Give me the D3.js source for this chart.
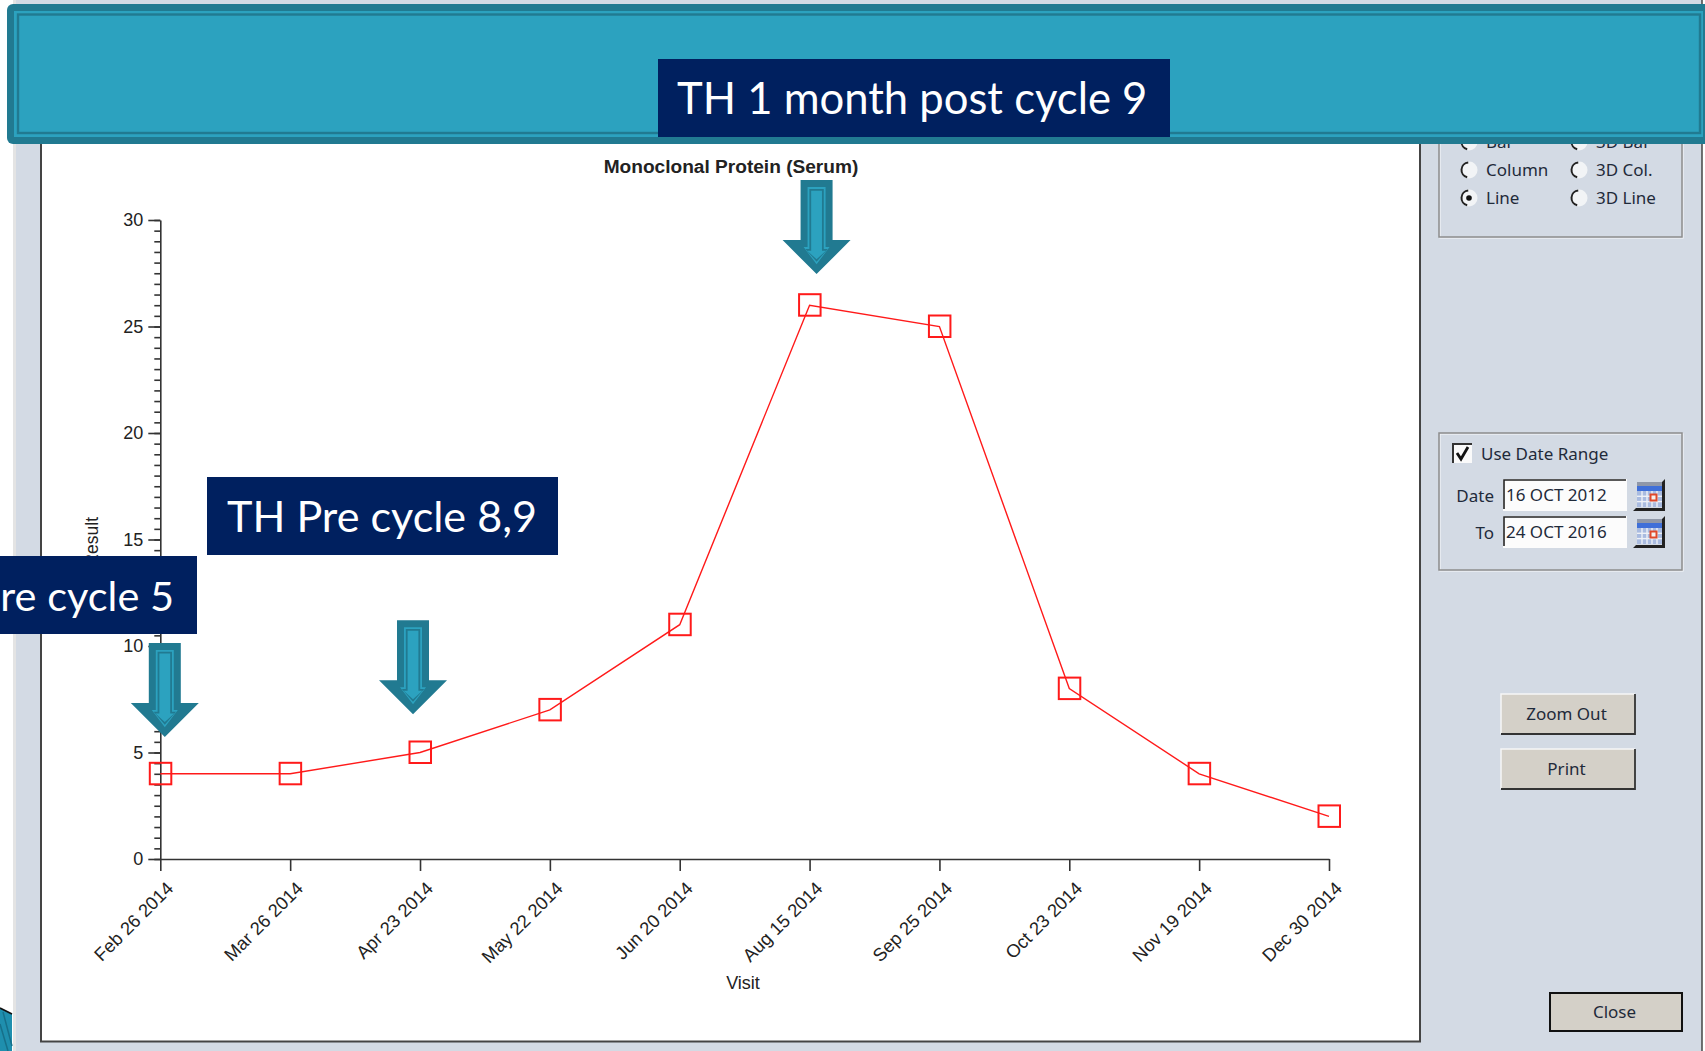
<!DOCTYPE html>
<html>
<head>
<meta charset="utf-8">
<script src="https://cdn.jsdelivr.net/npm/d3@7"></script>
<style>
  html, body { margin: 0; padding: 0; background: #fff; overflow: hidden; }
  .axis path, .axis line { stroke: #333; stroke-width: 1.6; }
  .axis text { font-family: "Liberation Sans", Arial, sans-serif; font-size: 18px; fill: #222; }
  .ui { font-family: "Noto Sans", sans-serif; font-size: 17px; fill: #1f2a3a; }
  .callout { font-family: Lato, sans-serif; font-size: 43.3px; fill: #fff; }
</style>
</head>
<body>
<div id="chart"></div>
<script>
// Chart values
var visits = ["Feb 26 2014", "Mar 26 2014", "Apr 23 2014", "May 22 2014", "Jun 20 2014",
              "Aug 15 2014", "Sep 25 2014", "Oct 23 2014", "Nov 19 2014", "Dec 30 2014"];
var mProtein = [4, 4, 5, 7, 11, 26, 25, 8, 4, 2];
var yTicks = [0, 5, 10, 15, 20, 25, 30];
var yMinorTicks = d3.range(0, 30.5, 0.5);

// Callouts on top of the chart: which visit each arrow points at
var arrowVisits = ["Feb 26 2014", "Apr 23 2014", "Aug 15 2014"];
var arrowValues = [5.73, 6.8, 27.46];
var arrowShift = [4.5, -7, 7];

var W = 1705, H = 1051;

var svg = d3.select("#chart").append("svg")
    .attr("width", W)
    .attr("height", H)
    .style("display", "block");

// Window background
svg.append("rect").attr("width", W).attr("height", H).attr("fill", "#fff");
svg.append("rect").attr("x", 13).attr("y", 0).attr("width", 3).attr("height", H).attr("fill", "#e4e4e4");
svg.append("rect").attr("x", 16).attr("y", 0).attr("width", 1686).attr("height", H).attr("fill", "#d3dae4");
svg.append("line").attr("x1", 1702).attr("x2", 1702).attr("y1", 0).attr("y2", H).attr("stroke", "#444").attr("stroke-width", 1.5);

// Corner of the slide decoration, bottom left
svg.append("path").attr("d", "M0,1008L12,1014V1051H0Z").attr("fill", "#1f8fae");
svg.append("path").attr("d", "M0,1024L8,1051M3,1012L12,1046").attr("fill", "none").attr("stroke", "#17708a").attr("stroke-width", 1.5);
svg.append("path").attr("d", "M0,1008L12,1014").attr("fill", "none").attr("stroke", "#111").attr("stroke-width", 1.8);

// Plot pane
svg.append("rect")
    .attr("x", 41).attr("y", 100).attr("width", 1379).attr("height", 941.5)
    .attr("fill", "#fff").attr("stroke", "#444").attr("stroke-width", 2);

// Scales and axes
var x = d3.scalePoint().domain(visits).range([160.3, 1329]);
var y = d3.scaleLinear().domain([0, 30]).range([859, 220]);

svg.append("g")
    .attr("class", "axis")
    .attr("transform", "translate(160.3,0)")
    .call(d3.axisLeft(y).tickValues(yMinorTicks).tickSize(6).tickFormat(""))
    .select(".domain").remove();

svg.append("g")
    .attr("class", "axis")
    .attr("transform", "translate(160.3,0)")
    .call(d3.axisLeft(y).tickValues(yTicks).tickSize(12).tickSizeOuter(0).tickPadding(5));

var xAxis = svg.append("g")
    .attr("class", "axis")
    .attr("transform", "translate(0,859)")
    .call(d3.axisBottom(x).tickSize(12).tickSizeOuter(0));

xAxis.selectAll("text")
    .attr("text-anchor", "end")
    .attr("dy", 0)
    .style("font-size", "18.3px")
    .attr("transform", "translate(3,20) rotate(-45)");

// Titles
svg.append("text")
    .attr("x", 731).attr("y", 173)
    .attr("text-anchor", "middle")
    .style("font", "bold 19.1px 'Liberation Sans', Arial, sans-serif")
    .style("fill", "#222")
    .text("Monoclonal Protein (Serum)");

svg.append("text")
    .attr("x", 743).attr("y", 989)
    .attr("text-anchor", "middle")
    .style("font", "18px 'Liberation Sans', Arial, sans-serif")
    .style("fill", "#222")
    .text("Visit");

svg.append("text")
    .attr("transform", "translate(98,517) rotate(-90)")
    .attr("text-anchor", "end")
    .style("font", "17.5px 'Liberation Sans', Arial, sans-serif")
    .style("fill", "#222")
    .text("Result");

// Series line and square markers
var line = d3.line()
    .x(function(d, i) { return x(visits[i]); })
    .y(function(d) { return y(d); });

svg.append("path")
    .datum(mProtein)
    .attr("d", line)
    .attr("fill", "none")
    .attr("stroke", "#ff1a1a")
    .attr("stroke-width", 1.4);

svg.selectAll(".marker")
    .data(mProtein)
    .enter().append("rect")
    .attr("class", "marker")
    .attr("x", function(d, i) { return x(visits[i]) - 10.5; })
    .attr("y", function(d) { return y(d) - 11; })
    .attr("width", 21.5)
    .attr("height", 21.5)
    .attr("fill", "none")
    .attr("stroke", "#ff1a1a")
    .attr("stroke-width", 2);

// Right hand controls
function groupBox(bx, by, bw, bh) {
    svg.append("rect").attr("x", bx + 1).attr("y", by + 1).attr("width", bw).attr("height", bh).attr("fill", "none").attr("stroke", "#f4f6f9").attr("stroke-width", 1.2);
    svg.append("rect").attr("x", bx).attr("y", by).attr("width", bw).attr("height", bh).attr("fill", "none").attr("stroke", "#8c8c8c").attr("stroke-width", 1.5);
}

function label(txt, lx, ly, anchor) {
    svg.append("text").attr("class", "ui").attr("x", lx).attr("y", ly)
        .attr("text-anchor", anchor || "start").text(txt);
}

function radio(rx, ry, on) {
    svg.append("circle").attr("cx", rx).attr("cy", ry).attr("r", 8.5).attr("fill", "#f2f4f6");
    svg.append("path")
        .attr("d", d3.arc()({innerRadius: 6.5, outerRadius: 8.5, startAngle: -2.9, endAngle: -0.1}))
        .attr("transform", "translate(" + rx + "," + ry + ")")
        .attr("fill", "#222");
    if (on) svg.append("circle").attr("cx", rx).attr("cy", ry).attr("r", 2.8).attr("fill", "#111");
}

groupBox(1439, 100, 243, 137);

var radioRows = [
    {name: "Bar", name3d: "3D Bar", ly: 148, on: false},
    {name: "Column", name3d: "3D Col.", ly: 176, on: false},
    {name: "Line", name3d: "3D Line", ly: 204, on: true}
];
radioRows.forEach(function(r) {
    radio(1469, r.ly - 6, r.on);
    radio(1579, r.ly - 6, false);
    label(r.name, 1486, r.ly);
    label(r.name3d, 1596, r.ly);
});

groupBox(1439, 433, 243, 137);

// Check box
svg.append("rect").attr("x", 1453).attr("y", 444).attr("width", 19).attr("height", 19).attr("fill", "#fafafa");
svg.append("path").attr("d", "M1453,463V444H1472").attr("fill", "none").attr("stroke", "#333").attr("stroke-width", 2);
svg.append("path").attr("d", "M1457,453L1461,459L1468,447").attr("fill", "none").attr("stroke", "#111").attr("stroke-width", 2.8);
label("Use Date Range", 1481, 460);

function dateField(txt, name, fy) {
    label(name, 1494, fy + 23, "end");
    svg.append("rect").attr("x", 1503).attr("y", fy).attr("width", 124).attr("height", 32).attr("fill", "#fcfcfc");
    svg.append("path").attr("d", "M1504," + (fy + 30) + "V" + (fy + 1) + "H1626").attr("fill", "none").attr("stroke", "#222").attr("stroke-width", 1.6);
    label(txt, 1506, fy + 22);
    // calendar icon
    var cal = svg.append("g").attr("transform", "translate(1633," + fy + ")");
    cal.append("path").attr("d", "M0,32L3,29H29V3L32,0V32Z").attr("fill", "#222");
    cal.append("rect").attr("x", 4).attr("y", 3).attr("width", 25).attr("height", 4).attr("fill", "#8f97a8");
    cal.append("rect").attr("x", 4).attr("y", 7).attr("width", 25).attr("height", 5).attr("fill", "#3f6fd8");
    cal.append("rect").attr("x", 4).attr("y", 12).attr("width", 25).attr("height", 16).attr("fill", "#a9bbe0");
    cal.selectAll(".gridv").data(d3.range(1, 5)).enter().append("line")
        .attr("x1", function(d) { return 4 + d * 5; }).attr("x2", function(d) { return 4 + d * 5; })
        .attr("y1", 12).attr("y2", 28).attr("stroke", "#eef1f7").attr("stroke-width", 1.4);
    cal.selectAll(".gridh").data(d3.range(1, 3)).enter().append("line")
        .attr("x1", 4).attr("x2", 29)
        .attr("y1", function(d) { return 12 + d * 5.3; }).attr("y2", function(d) { return 12 + d * 5.3; })
        .attr("stroke", "#eef1f7").attr("stroke-width", 1.4);
    cal.append("rect").attr("x", 17.5).attr("y", 15.5).attr("width", 6).attr("height", 6).attr("fill", "#f4f1ee").attr("stroke", "#e0482b").attr("stroke-width", 2);
}
dateField("16 OCT 2012", "Date", 479);
dateField("24 OCT 2016", "To", 516);

function button(txt, bx, by, bw, bh, framed) {
    if (framed) {
        svg.append("rect").attr("x", bx).attr("y", by).attr("width", bw).attr("height", bh).attr("fill", "#d4d0c8").attr("stroke", "#111").attr("stroke-width", 2);
    } else {
        svg.append("rect").attr("x", bx).attr("y", by).attr("width", bw).attr("height", bh).attr("fill", "#d4d0c8");
        svg.append("path").attr("d", "M" + bx + "," + (by + bh) + "V" + by + "H" + (bx + bw)).attr("fill", "none").attr("stroke", "#f6f6f6").attr("stroke-width", 1.5);
        svg.append("path").attr("d", "M" + bx + "," + (by + bh) + "H" + (bx + bw) + "V" + by).attr("fill", "none").attr("stroke", "#333").attr("stroke-width", 1.8);
    }
    label(txt, bx + bw / 2 - 1.5, by + bh / 2 + 6, "middle");
}
button("Zoom Out", 1501, 694, 134, 40, false);
button("Print", 1501, 749, 134, 40, false);
button("Close", 1550, 993, 132, 38, true);

// Banner across the top of the slide
svg.append("rect").attr("x", 7).attr("y", 4).attr("width", 1710).attr("height", 140).attr("rx", 6).attr("fill", "#217a91");
svg.append("rect").attr("x", 14).attr("y", 11).attr("width", 1689).attr("height", 126).attr("fill", "#2ca2bf");
svg.append("rect").attr("x", 18).attr("y", 14.5).attr("width", 1682).attr("height", 118.5).attr("fill", "none").attr("stroke", "#217a91").attr("stroke-width", 2.4);

// Down arrows, the inset copies give the bevel inside the shape
function arrowPath(cx, tip, inset) {
    var top = tip - 94, neck = tip - 34, sw = 16;
    var headHalf = inset > 0 ? sw - inset + 4 : 34;
    return "M" + (cx - sw + inset) + "," + (top + inset) +
        "H" + (cx + sw - inset) +
        "V" + (neck + inset) +
        "H" + (cx + headHalf) +
        "L" + cx + "," + (tip - inset * 1.4) +
        "L" + (cx - headHalf) + "," + (neck + inset) +
        "H" + (cx - sw + inset) + "Z";
}

arrowVisits.forEach(function(v, i) {
    var cx = x(v) + arrowShift[i];
    var tip = y(arrowValues[i]);
    var g = svg.append("g");
    g.append("path").attr("d", arrowPath(cx, tip, 0)).attr("fill", "#217a91");
    g.append("path").attr("d", arrowPath(cx, tip, 7)).attr("fill", "#2ca2bf");
    g.append("path").attr("d", arrowPath(cx, tip, 8.8)).attr("fill", "#217a91");
    g.append("path").attr("d", arrowPath(cx, tip, 10.6)).attr("fill", "#2ca2bf");
});

// Text boxes
function callout(txt, bx, by, bw, bh, tx, anchor, size) {
    svg.append("rect").attr("x", bx).attr("y", by).attr("width", bw).attr("height", bh).attr("fill", "#00205f");
    svg.append("text").attr("class", "callout").attr("x", tx).attr("y", by + 54.5).attr("text-anchor", anchor)
        .style("font-size", size + "px").text(txt);
}
callout("TH 1 month post cycle 9", 658, 59, 512, 78, 677, "start", 43.6);
callout("TH Pre cycle 8,9", 207, 477, 351, 78, 227, "start", 43.1);
callout("re cycle 5", 0, 556, 197, 78, 174, "end", 41.5);
</script>
</body>
</html>
